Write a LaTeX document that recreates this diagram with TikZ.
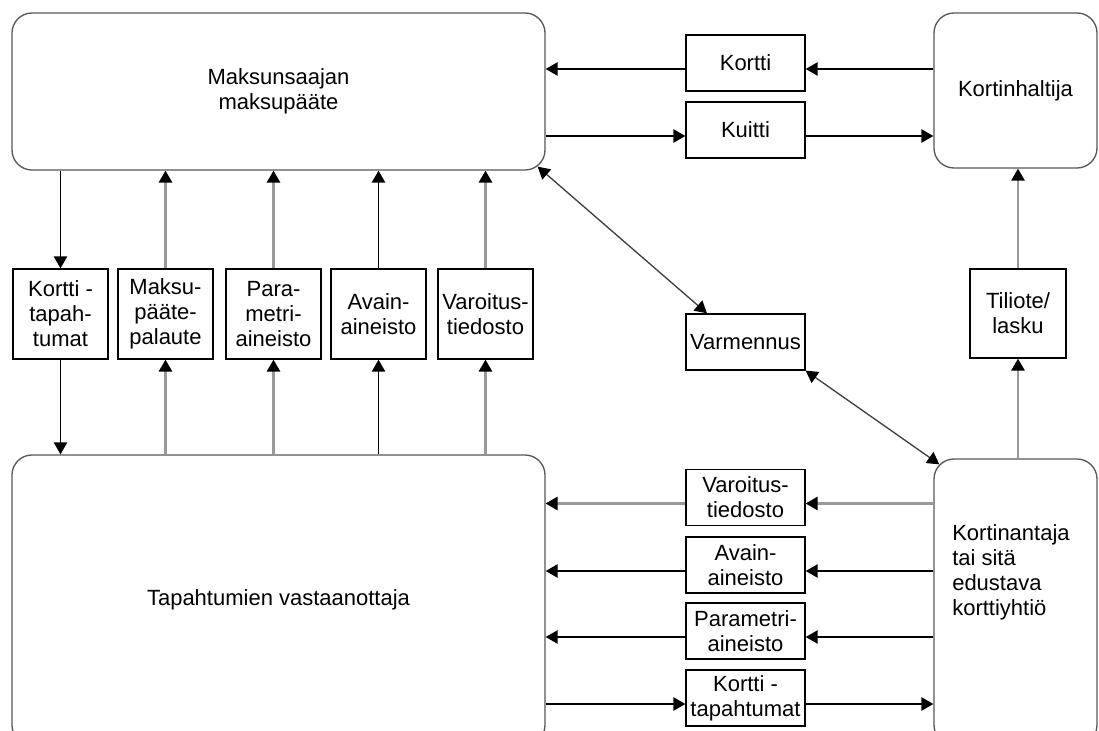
\documentclass[tikz,border=0pt]{standalone}
\usepackage{fontspec}
\setmainfont{Liberation Sans}
\usetikzlibrary{arrows.meta}
\begin{document}
\begin{tikzpicture}[x=0.75pt,y=-0.75pt,
  every node/.style={font=\fontsize{16.5pt}{18.75pt}\selectfont, inner sep=0pt, align=center},
  bigbox/.style={draw=black!65, line width=1pt, rounded corners=15pt},
  smallbox/.style={draw=black, line width=1pt, minimum width=71.25pt, minimum height=67.5pt},
  sidebox/.style={draw=black, line width=1pt, minimum width=89.25pt, minimum height=42pt},
  arrowtip/.style={-{Triangle[length=9pt,width=10pt,color=black]}},
  dtip/.style={{Triangle[length=9pt,width=10pt,color=black]}-{Triangle[length=9pt,width=10pt,color=black]}},
  blk/.style={arrowtip, draw=black, line width=1.1pt},
  gry/.style={arrowtip, draw=black!40, line width=1.6pt},
  diag/.style={dtip, draw=black!75, line width=1pt}]
\useasboundingbox (0,0) rectangle (1099,731);
\fill[white] (0,0) rectangle (1099,731);

% big boxes
\node[bigbox, minimum width=399.75pt, minimum height=117.75pt] (top) at (278.5,91.5) {Maksunsaajan\\maksupääte};
\node[bigbox, minimum width=399.75pt, minimum height=217.5pt] (bot) at (278.5,600) {Tapahtumien vastaanottaja};
\node[bigbox, minimum width=122.25pt, minimum height=116.25pt] (haltija) at (1015.5,90.5) {Kortinhaltija};
\node[bigbox, minimum width=122.25pt, minimum height=214.5pt] (antaja) at (1015.5,602) {};
\node[anchor=west, align=left] (antajatext) at (952,572) {Kortinantaja\\tai sitä\\edustava\\korttiyhtiö};

% middle row of small boxes
\node[smallbox] (s1) at (60.5,314) {Kortti -\\tapah-\\tumat};
\node[smallbox] (s2) at (165.5,314) {Maksu-\\pääte-\\palaute};
\node[smallbox] (s3) at (273.5,314) {Para-\\metri-\\aineisto};
\node[smallbox] (s4) at (378.5,314) {Avain-\\aineisto};
\node[smallbox] (s5) at (485.5,314) {Varoitus-\\tiedosto};

% right column boxes
\node[sidebox] (kortti) at (745.5,63) {Kortti};
\node[sidebox] (kuitti) at (745.5,130) {Kuitti};
\node[sidebox] (varm) at (745.5,342) {Varmennus};
\node[draw=black, line width=1pt, minimum width=72pt, minimum height=66.75pt] (tiliote) at (1018,313.5) {Tiliote/\\lasku};
\node[sidebox] (bvar) at (745.5,497.5) {Varoitus-\\tiedosto};
\node[sidebox] (bav) at (745.5,565) {Avain-\\aineisto};
\node[sidebox] (bpar) at (745.5,631) {Parametri-\\aineisto};
\node[sidebox] (bkt) at (745.5,698) {Kortti -\\tapahtumat};

% vertical connectors
\draw[blk] (s1 |- top.south) -- (s1.north);
\draw[blk] (s1.south) -- (s1 |- bot.north);
\draw[gry] (s2 |- bot.north) -- (s2.south);
\draw[gry] (s2.north) -- (s2 |- top.south);
\draw[gry] (s3 |- bot.north) -- (s3.south);
\draw[gry] (s3.north) -- (s3 |- top.south);
\draw[blk] (s4 |- bot.north) -- (s4.south);
\draw[blk] (s4.north) -- (s4 |- top.south);
\draw[gry] (s5 |- bot.north) -- (s5.south);
\draw[gry] (s5.north) -- (s5 |- top.south);

% top right
\coordinate (kA) at ([yshift=-4.5pt]kortti.east);
\coordinate (kB) at ([yshift=-4.5pt]kortti.west);
\draw[blk] (kA -| haltija.west) -- (kA);
\draw[blk] (kB) -- (kB -| top.east);
\coordinate (uA) at ([yshift=-4.5pt]kuitti.west);
\coordinate (uB) at ([yshift=-4.5pt]kuitti.east);
\draw[blk] (uA -| top.east) -- (uA);
\draw[blk] (uB) -- (uB -| haltija.west);

% tiliote
\draw[gry] (tiliote |- antaja.north) -- (tiliote.south);
\draw[gry] (tiliote.north) -- (tiliote |- haltija.south);

% bottom right
\coordinate (vA) at ([yshift=-4.5pt]bvar.east);
\coordinate (vB) at ([yshift=-4.5pt]bvar.west);
\draw[gry] (vA -| antaja.west) -- (vA);
\draw[gry] (vB) -- (vB -| bot.east);
\coordinate (aA) at ([yshift=-4.5pt]bav.east);
\coordinate (aB) at ([yshift=-4.5pt]bav.west);
\draw[blk] (aA -| antaja.west) -- (aA);
\draw[blk] (aB) -- (aB -| bot.east);
\coordinate (pA) at ([yshift=-4.5pt]bpar.east);
\coordinate (pB) at ([yshift=-4.5pt]bpar.west);
\draw[blk] (pA -| antaja.west) -- (pA);
\draw[blk] (pB) -- (pB -| bot.east);
\coordinate (tA) at ([yshift=-4.5pt]bkt.west);
\coordinate (tB) at ([yshift=-4.5pt]bkt.east);
\draw[blk] (tA -| bot.east) -- (tA);
\draw[blk] (tB) -- (tB -| antaja.west);

% diagonals
\coordinate (d1) at ([shift={(-8,-4)}]top.south east);
\coordinate (d2) at ([xshift=-28.9pt]varm.north);
\coordinate (d3) at ([shift={(6,6)}]antaja.north west);
\draw[diag] (d1) -- (d2);
\draw[diag] (varm.south east) -- (d3);
\end{tikzpicture}
\end{document}
